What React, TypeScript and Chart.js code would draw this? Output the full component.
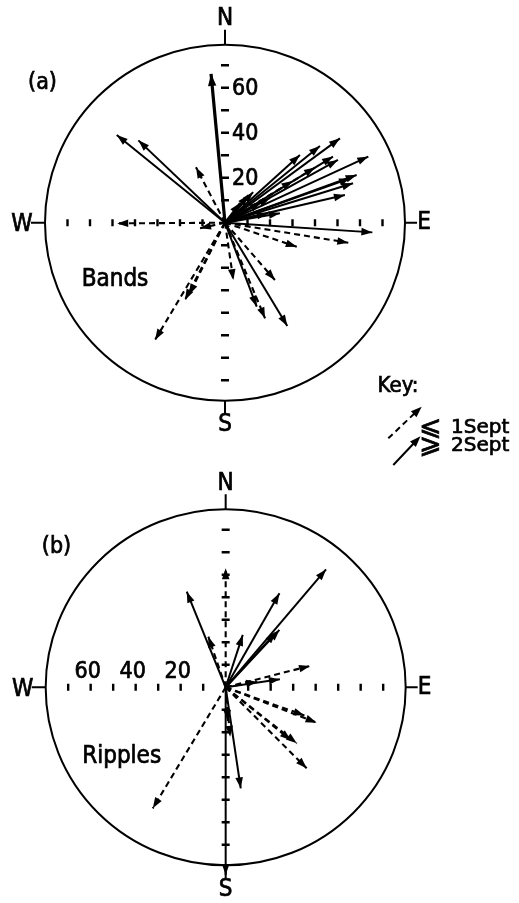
import React, { useEffect, useRef } from "react";
import { Chart, registerables } from "chart.js";

Chart.register(...registerables);

// ---------- data (units: same scale as the radial axis, 0..80) ----------
const RADIUS = 80;
const axisTicks = [10, 20, 30, 40, 50, 60, 70];
const bandsTickLabels = ["20", "40", "60"];
const bandsTickLabelValues = [20, 40, 60];
const ripplesTickLabels = ["60", "40", "20"];
const ripplesTickLabelValues = [60, 40, 20];
const compass = ["N", "E", "S", "W"];

// (a) Bands — dashed arrows (<= 1 Sept), [east, north]
const bandsEarly: [number, number][] = [
  [-12.9, 24.6],
  [-47.9, -0.3],
  [-11.1, -2.5],
  [54.8, -8.9],
  [31.9, -10.7],
  [22.2, -25.5],
  [17.8, -42.5],
  [3.7, -25.5],
  [-31.1, -52.1],
  [-17.8, -34.4],
  [-16.0, -32.0],
  [40.0, 24.5],
  [30.0, 18.5],
  [20.0, 11.0],
];
// (a) Bands — solid arrows (>= 2 Sept)
const bandsLate: [number, number][] = [
  [-48.1, 39.0],
  [-38.5, 36.6],
  [51.1, 37.5],
  [42.2, 34.1],
  [33.3, 30.1],
  [63.7, 29.4],
  [48.0, 29.4],
  [50.2, 27.9],
  [58.5, 21.2],
  [55.6, 19.7],
  [56.9, 17.5],
  [53.3, 12.3],
  [65.5, -4.3],
  [27.7, -45.9],
  [14.1, -37.3],
  [12.5, 13.6],
  [10.4, 12.3],
  [6.7, 8.8],
  [19.1, 4.2],
  [24.4, 4.2],
  [16.0, 9.0],
];
const bandsLateThick: [number, number][] = [[-6.2, 66.1]];

// (b) Ripples — dashed arrows (<= 1 Sept)
const ripplesEarly: [number, number][] = [
  [0, 52.9],
  [-7.7, 22.5],
  [37.5, 9.5],
  [40.4, -15.7],
  [35.0, -12.5],
  [36.0, -36.0],
  [31.6, -24.9],
  [29.0, -23.5],
  [-32.4, -53.8],
  [2.0, -22.0],
  [1.0, -15.0],
  [14.0, 2.5],
];
// (b) Ripples — solid arrows (>= 2 Sept)
const ripplesLate: [number, number][] = [
  [-17.3, 42.5],
  [44.6, 52.4],
  [23.9, 41.8],
  [7.6, 23.3],
  [23.9, 25.5],
  [22.3, 24.3],
  [24.1, 3.6],
  [6.7, -44.9],
  [0, -83.4],
];

// ---------- layout ----------
const W = 519;
const H = 903;
const PX = 2.25; // pixels per unit
const X_MIN = -225 / PX;
const X_MAX = X_MIN + W / PX;
const Y_MAX = 222.7 / PX;
const Y_MIN = Y_MAX - H / PX;
const ORIGIN_A = { x: 0, y: 0 };
const ORIGIN_B = { x: 0.3, y: -(687.3 - 222.7) / PX };
const FONT = "'DejaVu Sans Condensed', 'DejaVu Sans', sans-serif";
const FONT_WIDE = "'DejaVu Sans', sans-serif";

function arrowDs(o: { x: number; y: number }, v: [number, number], dashed: boolean, width: number) {
  return {
    data: [
      { x: o.x, y: o.y },
      { x: o.x + v[0], y: o.y + v[1] },
    ],
    borderColor: "#000",
    backgroundColor: "#000",
    borderWidth: width,
    borderDash: dashed ? [6, 4] : [],
    pointRadius: 0,
    pointHoverRadius: 0,
    showLine: true,
    fill: false,
    tension: 0,
  };
}

function drawHead(ctx: CanvasRenderingContext2D, x0: number, y0: number, x1: number, y1: number, len = 11, half = 4) {
  const a = Math.atan2(y1 - y0, x1 - x0);
  const cx = Math.cos(a), sy = Math.sin(a);
  ctx.beginPath();
  ctx.moveTo(x1, y1);
  ctx.lineTo(x1 - len * cx - half * sy, y1 - len * sy + half * cx);
  ctx.lineTo(x1 - len * cx + half * sy, y1 - len * sy - half * cx);
  ctx.closePath();
  ctx.fill();
}

function text(ctx: CanvasRenderingContext2D, s: string, x: number, y: number) {
  ctx.lineWidth = 0.7;
  ctx.setLineDash([]);
  ctx.fillText(s, x, y);
  ctx.strokeText(s, x, y);
}

const overlay = {
  id: "roseOverlay",
  afterDatasetsDraw(chart: any) {
    const ctx: CanvasRenderingContext2D = chart.ctx;
    const xs = chart.scales.x;
    const ys = chart.scales.y;
    const px = (v: number) => xs.getPixelForValue(v);
    const py = (v: number) => ys.getPixelForValue(v);
    ctx.save();
    ctx.fillStyle = "#000";
    ctx.strokeStyle = "#000";

    // arrowheads
    chart.data.datasets.forEach((ds: any, i: number) => {
      const meta = chart.getDatasetMeta(i);
      const p = meta.data;
      if (!p || p.length < 2) return;
      drawHead(ctx, p[0].x, p[0].y, p[1].x, p[1].y, ds.borderWidth > 2.5 ? 12 : 11, ds.borderWidth > 2.5 ? 4.2 : 3.8);
    });

    const panels = [
      { o: ORIGIN_A, tag: "(a)", tagOff: [-182.5, -139.7], name: "Bands", nameOff: [-110, 57.3], kind: "a" },
      { o: ORIGIN_B, tag: "(b)", tagOff: [-169.2, -140.3], name: "Ripples", nameOff: [-104, 69.7], kind: "b" },
    ];

    panels.forEach((pn) => {
      const cx = px(pn.o.x);
      const cy = py(pn.o.y);
      const r = px(pn.o.x + RADIUS) - cx;
      // circle
      ctx.lineWidth = 2;
      ctx.setLineDash([]);
      ctx.beginPath();
      ctx.ellipse(cx, cy, r, r - 2, 0, 0, Math.PI * 2);
      ctx.stroke();
      // compass stubs
      ctx.lineWidth = 2;
      ctx.beginPath();
      ctx.moveTo(cx, cy - r + 2); ctx.lineTo(cx, cy - r - 13);
      ctx.moveTo(cx, cy + r - 2); ctx.lineTo(cx, cy + r + 11);
      ctx.moveTo(cx - r, cy); ctx.lineTo(cx - r - 14, cy);
      ctx.moveTo(cx + r, cy); ctx.lineTo(cx + r + 12, cy);
      ctx.stroke();
      ctx.font = `24px ${FONT}`;
      ctx.textAlign = "center";
      ctx.textBaseline = "middle";
      text(ctx, compass[0], cx, cy - r - 24);
      text(ctx, compass[2], cx, cy + r + 22);
      text(ctx, compass[3], cx - r - 23, cy + 2);
      text(ctx, compass[1], cx + r + 19, cy);

      // axis ticks
      ctx.lineWidth = 2.4;
      axisTicks.forEach((t) => {
        const hx1 = px(pn.o.x + t), hx2 = px(pn.o.x - t);
        const vy1 = py(pn.o.y + t), vy2 = py(pn.o.y - t);
        ctx.beginPath();
        ctx.moveTo(hx1, cy - 3.5); ctx.lineTo(hx1, cy + 3.5);
        ctx.moveTo(hx2, cy - 3.5); ctx.lineTo(hx2, cy + 3.5);
        ctx.moveTo(cx - 4, vy1); ctx.lineTo(cx + 4, vy1);
        ctx.moveTo(cx - 4, vy2); ctx.lineTo(cx + 4, vy2);
        ctx.stroke();
      });

      // tick labels
      ctx.font = `23px ${FONT}`;
      if (pn.kind === "a") {
        ctx.textAlign = "left";
        ctx.textBaseline = "middle";
        bandsTickLabels.forEach((lab, k) => {
          text(ctx, lab, cx + 7, py(pn.o.y + bandsTickLabelValues[k]) + 1);
        });
      } else {
        ctx.textAlign = "center";
        ctx.textBaseline = "middle";
        ripplesTickLabels.forEach((lab, k) => {
          text(ctx, lab, px(pn.o.x - ripplesTickLabelValues[k]) - 3, cy - 15);
        });
      }

      // panel tag + name
      ctx.font = `23px ${FONT}`;
      ctx.textAlign = "center";
      ctx.textBaseline = "middle";
      text(ctx, pn.tag, cx + pn.tagOff[0], cy + pn.tagOff[1]);
      ctx.font = `24px ${FONT}`;
      text(ctx, pn.name, cx + pn.nameOff[0], cy + pn.nameOff[1]);
    });

    // key
    ctx.font = `22px ${FONT}`;
    ctx.textAlign = "center";
    ctx.textBaseline = "middle";
    text(ctx, "Key:", 398, 386);
    ctx.lineWidth = 2;
    ctx.setLineDash([6, 4]);
    ctx.beginPath();
    ctx.moveTo(388.3, 438.3);
    ctx.lineTo(416, 412);
    ctx.stroke();
    ctx.setLineDash([]);
    drawHead(ctx, 388.3, 438.3, 421.7, 406.7);
    ctx.lineWidth = 2;
    ctx.beginPath();
    ctx.moveTo(393.3, 465);
    ctx.lineTo(416, 441);
    ctx.stroke();
    drawHead(ctx, 393.3, 465, 420.5, 436.2);
    ctx.textAlign = "left";
    ctx.font = `27px ${FONT_WIDE}`;
    text(ctx, "\u2A7D", 419, 428);
    text(ctx, "\u2A7E", 419, 446);
    ctx.font = `20px ${FONT_WIDE}`;
    text(ctx, "1Sept", 451, 428);
    text(ctx, "2Sept", 451, 446);

    ctx.restore();
  },
};

export default function App() {
  const ref = useRef<HTMLCanvasElement | null>(null);
  useEffect(() => {
    document.body.style.margin = "0";
    const el = ref.current;
    if (!el) return;
    const datasets: any[] = [];
    bandsEarly.forEach((v) => datasets.push(arrowDs(ORIGIN_A, v, true, 2.1)));
    bandsLate.forEach((v) => datasets.push(arrowDs(ORIGIN_A, v, false, 2)));
    bandsLateThick.forEach((v) => datasets.push(arrowDs(ORIGIN_A, v, false, 3.2)));
    ripplesEarly.forEach((v) => datasets.push(arrowDs(ORIGIN_B, v, true, 2.1)));
    ripplesLate.forEach((v) => datasets.push(arrowDs(ORIGIN_B, v, false, 2)));

    const chart = new Chart(el, {
      type: "scatter",
      data: { datasets },
      options: {
        responsive: false,
        animation: false,
        events: [],
        layout: { padding: 0 },
        plugins: { legend: { display: false }, tooltip: { enabled: false } },
        scales: {
          x: { type: "linear", min: X_MIN, max: X_MAX, display: false },
          y: { type: "linear", min: Y_MIN, max: Y_MAX, display: false },
        },
      },
      plugins: [overlay],
    } as any);
    return () => chart.destroy();
  }, []);
  return (
    <div style={{ width: W, height: H, background: "#fff" }}>
      <canvas ref={ref} width={W} height={H} style={{ display: "block" }} />
    </div>
  );
}
